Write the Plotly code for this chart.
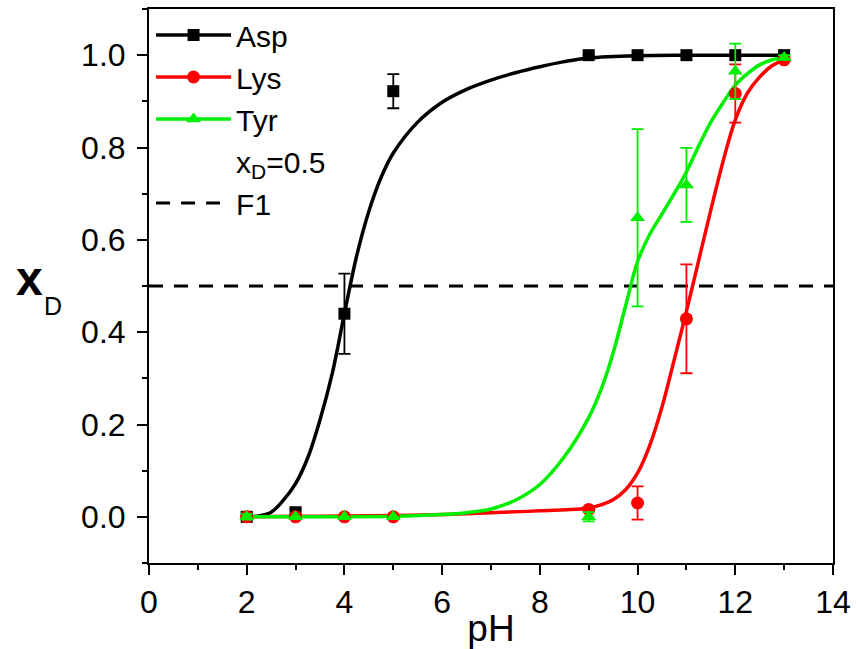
import plotly.graph_objects as go

# ---- data ----
ph = [2, 3, 4, 5, 9, 10, 11, 12, 13]
asp_y = [0.0, 0.01, 0.44, 0.922, 1.0, 1.0, 1.0, 1.0, 1.0]
asp_err = [0.006, 0.006, 0.087, 0.037, 0.0, 0.0, 0.0, 0.0, 0.0]
lys_y = [0.0, 0.0, 0.0, 0.0, 0.016, 0.03, 0.429, 0.917, 0.99]
lys_err = [0.0, 0.0, 0.0, 0.0, 0.0, 0.036, 0.118, 0.063, 0.005]
tyr_y = [0.0, 0.0, 0.0, 0.0, 0.0, 0.648, 0.719, 0.965, 0.995]
tyr_err = [0.006, 0.0, 0.0, 0.0, 0.01, 0.192, 0.08, 0.06, 0.005]

asp_fit_x = [2, 2.25, 2.5, 2.75, 3, 3.25, 3.5, 3.75, 4, 4.25, 4.5, 4.75, 5, 5.5, 6, 6.5, 7, 7.5, 8, 8.5, 9, 10, 11, 12, 13]
asp_fit_y = [0.0, 0.002, 0.01, 0.036, 0.072, 0.128, 0.21, 0.31, 0.44, 0.565, 0.662, 0.735, 0.788, 0.855, 0.898, 0.926, 0.946, 0.962, 0.975, 0.986, 0.994, 0.999, 1.0, 1.0, 1.0]
lys_fit_x = [2, 3, 4, 5, 6, 7, 8, 9, 9.25, 9.5, 9.75, 10, 10.25, 10.5, 10.75, 11, 11.25, 11.5, 11.75, 12, 12.25, 12.5, 12.75, 13]
lys_fit_y = [0.0, 0.001, 0.002, 0.003, 0.005, 0.009, 0.013, 0.019, 0.026, 0.037, 0.058, 0.095, 0.155, 0.238, 0.34, 0.445, 0.555, 0.665, 0.77, 0.86, 0.918, 0.953, 0.977, 0.99]
tyr_fit_x = [2, 3, 4, 5, 6, 6.5, 7, 7.5, 8, 8.5, 9, 9.25, 9.5, 9.75, 10, 10.25, 10.5, 10.75, 11, 11.25, 11.5, 11.75, 12, 12.25, 12.5, 12.75, 13]
tyr_fit_y = [0.0, 0.0, 0.0, 0.001, 0.005, 0.009, 0.017, 0.036, 0.07, 0.13, 0.215, 0.275, 0.355, 0.455, 0.553, 0.612, 0.656, 0.70, 0.747, 0.803, 0.855, 0.897, 0.935, 0.96, 0.979, 0.99, 0.995]

ref_x = [0, 14]
ref_y = [0.5, 0.5]

names = ["Asp", "Lys", "Tyr"]
colors = ["#000000", "#ff0000", "#00ee00"]
symbols = ["square", "circle", "triangle-up"]
msizes = [12, 13, 13]

FONT = "Liberation Sans, Arial, sans-serif"
DASH = "14px,11px"

fig = go.Figure()

# reference dashed line
fig.add_trace(go.Scatter(x=ref_x, y=ref_y, mode="lines", showlegend=False,
                         line=dict(color="black", width=3, dash=DASH)))

fits = [(asp_fit_x, asp_fit_y), (lys_fit_x, lys_fit_y), (tyr_fit_x, tyr_fit_y)]
pts = [(asp_y, asp_err), (lys_y, lys_err), (tyr_y, tyr_err)]

for i in range(3):
    fx, fy = fits[i]
    fig.add_trace(go.Scatter(x=fx, y=fy, mode="lines", showlegend=False,
                             line=dict(color=colors[i], width=3.5, shape="spline", smoothing=1.0)))
for i in range(3):
    yv, ev = pts[i]
    fig.add_trace(go.Scatter(x=ph, y=yv, mode="markers", showlegend=False,
                             marker=dict(symbol=symbols[i], size=msizes[i], color=colors[i]),
                             error_y=dict(type="data", array=ev, visible=True, color=colors[i],
                                          thickness=1.8, width=6)))

# legend entries
for i in range(3):
    fig.add_trace(go.Scatter(x=[None], y=[None], mode="lines+markers", name=names[i],
                             line=dict(color=colors[i], width=3.5),
                             marker=dict(symbol=symbols[i], size=msizes[i], color=colors[i])))
fig.add_trace(go.Scatter(x=[None], y=[None], mode="lines", name="x<sub>D</sub>=0.5",
                         line=dict(color="rgba(0,0,0,0)", width=0)))
fig.add_trace(go.Scatter(x=[None], y=[None], mode="lines", name="F1",
                         line=dict(color="black", width=3, dash=DASH)))

axis_common = dict(showgrid=False, zeroline=False, showline=True, linecolor="black",
                   linewidth=2, mirror=True, ticks="outside", tickcolor="black",
                   tickwidth=2, ticklen=10, automargin=False,
                   tickfont=dict(family=FONT, size=32, color="black"))

fig.update_layout(
    width=856, height=649,
    margin=dict(l=149, r=23, t=9, b=86),
    plot_bgcolor="white", paper_bgcolor="white",
    font=dict(family=FONT, color="black"),
    xaxis=dict(range=[0, 14], dtick=2, tick0=0, ticklabelstandoff=0,
               minor=dict(dtick=1, ticklen=5, tickwidth=2, ticks="outside", tickcolor="black"),
               title=dict(text="pH", font=dict(family=FONT, size=37), standoff=0),
               **axis_common),
    yaxis=dict(range=[-0.1, 1.1], dtick=0.2, tick0=0, tickformat=".1f", ticklabelstandoff=5,
               minor=dict(dtick=0.1, ticklen=5, tickwidth=2, ticks="outside", tickcolor="black"),
               **axis_common),
    legend=dict(x=0.003, y=1.0, xanchor="left", yanchor="top", bgcolor="rgba(0,0,0,0)",
                font=dict(family=FONT, size=30), itemwidth=75, tracegroupgap=0),
    annotations=[
        dict(text="<b>x</b>", xref="paper", yref="paper",
             x=(29 - 149) / 684, y=(563 - 278) / 554, xanchor="center", yanchor="middle",
             showarrow=False, font=dict(family=FONT, size=48, color="black")),
        dict(text="D", xref="paper", yref="paper",
             x=(53 - 149) / 684, y=(563 - 306) / 554, xanchor="center", yanchor="middle",
             showarrow=False, font=dict(family=FONT, size=25, color="black")),
    ],
)

fig.write_html("out.html")
